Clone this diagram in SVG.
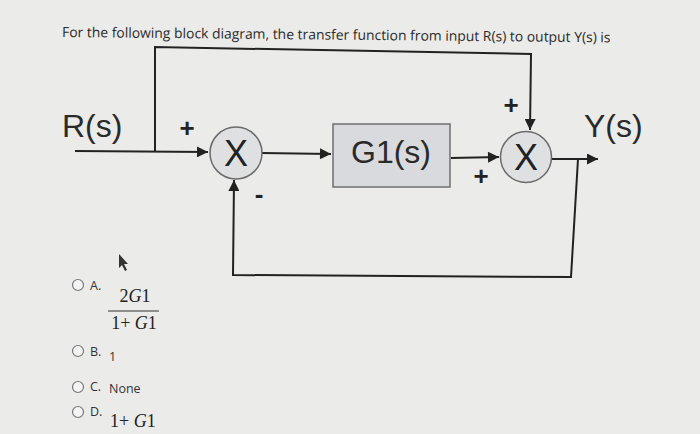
<svg xmlns="http://www.w3.org/2000/svg" width="700" height="434" viewBox="0 0 700 434">
<style>
.bg{fill:#ebebe9}
.t{font-family:"Open Sans","Liberation Sans",sans-serif;fill:#2a2a2a}
.big{font-family:"Liberation Sans",Arial,sans-serif;font-size:32px;fill:#2a2a2a}
.xx{font-family:"Liberation Sans",Arial,sans-serif;font-size:36px;fill:#222}
.sgn{font-family:"Liberation Sans",Arial,sans-serif;font-size:26px;font-weight:bold;fill:#222}
.w{stroke:#222;stroke-width:2;fill:none}
.sum{fill:#dfe0e2;stroke:#6a6a6a;stroke-width:1.5}
.blk{fill:#d9dadd;stroke:#6f6f6f;stroke-width:1.5}
.rad{fill:#f4f4f4;stroke:#777;stroke-width:1.2}
.opt{font-family:"Open Sans","Liberation Sans",sans-serif;font-size:12.5px;fill:#333}
.mth{font-family:"Liberation Serif","Times New Roman",serif;font-size:18px;fill:#222}
</style>
<defs>
<marker id="ah2" viewBox="0 0 10 10" refX="10" refY="5" markerWidth="15" markerHeight="11" orient="auto" markerUnits="userSpaceOnUse"><path d="M0,0 L10,5 L0,10 z" fill="#222"/></marker>
</defs>
<rect class="bg" x="0" y="0" width="700" height="434"/>
<text class="t" x="62" y="37" font-size="13.9" transform="rotate(0.55 62 37)">For the following block diagram, the transfer function from input R(s) to output Y(s) is</text>

<g id="connectors">
<path class="w" d="M75,151 L208,152" marker-end="url(#ah2)"/>
<path class="w" d="M155,151 L155,47 L531,54 L530,130" marker-end="url(#ah2)"/>
<path class="w" d="M262,153 L331,154" marker-end="url(#ah2)"/>
<path class="w" d="M451,158 L499,157" marker-end="url(#ah2)"/>
<path class="w" d="M552,159 L598,159" marker-end="url(#ah2)"/>
<path class="w" d="M578,159 L571,277 L233,275 L234,180" marker-end="url(#ah2)"/>
</g>

<g id="R">
<text class="big" x="62" y="137">R(s)</text>
</g>
<g id="sum1">
<circle class="sum" cx="236" cy="153" r="26"/>
<text class="xx" x="236" y="166" text-anchor="middle">X</text>
<text class="sgn" x="187" y="137" text-anchor="middle" font-weight="normal">+</text>
<text class="sgn" x="259" y="203" text-anchor="middle">-</text>
</g>
<g id="G1">
<rect class="blk" x="333" y="124" width="117" height="63"/>
<text class="big" x="391" y="163" text-anchor="middle" font-size="30">G1(s)</text>
</g>
<g id="sum2">
<circle class="sum" cx="526" cy="157" r="25.5"/>
<text class="xx" x="526" y="170" text-anchor="middle">X</text>
<text class="sgn" x="511" y="114" text-anchor="middle" font-weight="normal">+</text>
<text class="sgn" x="481" y="185" text-anchor="middle" font-weight="normal">+</text>
</g>
<g id="Y">
<text class="big" x="584" y="137">Y(s)</text>
</g>

<g id="options">
<path d="M119,254 L119,268 L122,265 L125,271 L127,270 L124,264 L128,264 z" fill="#333"/>
<circle class="rad" cx="78" cy="285" r="5.5"/>
<text class="opt" x="90" y="290">A.</text>
<text class="mth" x="135" y="302" text-anchor="middle">2<tspan font-style="italic">G</tspan>1</text>
<line x1="108" y1="311" x2="159" y2="311" stroke="#333" stroke-width="1"/>
<text class="mth" x="134" y="329" text-anchor="middle">1+ <tspan font-style="italic">G</tspan>1</text>
<circle class="rad" cx="78" cy="351" r="5.5"/>
<text class="opt" x="90" y="356">B.</text>
<text class="opt" x="109" y="361">1</text>
<circle class="rad" cx="78" cy="387" r="5.5"/>
<text class="opt" x="90" y="391">C.</text>
<text class="opt" x="109" y="393">None</text>
<circle class="rad" cx="78" cy="412" r="5.5"/>
<text class="opt" x="90" y="416">D.</text>
<text class="mth" x="110" y="427">1+ <tspan font-style="italic">G</tspan>1</text>
</g>
</svg>
